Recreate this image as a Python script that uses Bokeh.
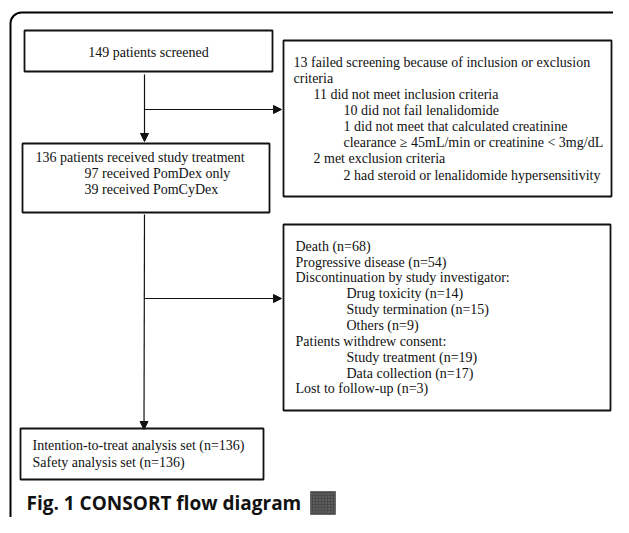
from bokeh.plotting import figure
from bokeh.models import Range1d, Arrow, NormalHead, BoxAnnotation, ColumnDataSource
from bokeh.core.properties import value
from bokeh.embed import file_html
from bokeh.resources import INLINE

# ---- data (texts of the flow diagram) ----
screened = 149
treated = 136
pomdex = 97
pomcydex = 39

box1_lines = [f"{screened} patients screened"]
box2_lines = [f"{treated} patients received study treatment",
              f"{pomdex} received PomDex only",
              f"{pomcydex} received PomCyDex"]
box2_indent = [0, 1, 1]
box3_lines = ["13 failed screening because of inclusion or exclusion",
              "criteria",
              "11 did not meet inclusion criteria",
              "10 did not fail lenalidomide",
              "1 did not meet that calculated creatinine",
              "clearance \u2265 45mL/min or creatinine < 3mg/dL",
              "2 met exclusion criteria",
              "2 had steroid or lenalidomide hypersensitivity"]
box3_indent = [0, 0, 1, 2, 2, 2, 1, 2]
box4_lines = ["Death (n=68)",
              "Progressive disease (n=54)",
              "Discontinuation by study investigator:",
              "Drug toxicity (n=14)",
              "Study termination (n=15)",
              "Others (n=9)",
              "Patients withdrew consent:",
              "Study treatment (n=19)",
              "Data collection (n=17)",
              "Lost to follow-up (n=3)"]
box4_indent = [0, 0, 0, 1, 1, 1, 0, 1, 1, 0]
box5_lines = [f"Intention-to-treat analysis set (n={treated})",
              f"Safety analysis set (n={treated})"]
caption = "Fig. 1 CONSORT flow diagram"

# ---- layout ----
W, H = 613, 517
p = figure(width=W, height=H, x_range=Range1d(0, W), y_range=Range1d(H, 0),
           output_backend="svg", toolbar_location=None, min_border=0,
           min_border_left=0, min_border_right=0, min_border_top=0, min_border_bottom=0)
p.axis.visible = False
p.grid.visible = False
p.outline_line_color = None
p.background_fill_color = "white"
p.border_fill_color = "white"

# outer rounded frame
p.add_layout(BoxAnnotation(left=10, right=627, top=12, bottom=530, fill_alpha=0,
                           line_color="black", line_alpha=1.0, line_width=2,
                           border_radius=11, level="overlay"))

# boxes
bx = dict(left=[24, 22, 283, 283, 20], right=[272, 269, 611, 610, 263],
          top=[30, 143, 40, 224, 428], bottom=[71, 212, 196, 410, 479])
p.quad(source=ColumnDataSource(bx), left="left", right="right", top="top", bottom="bottom",
       fill_color="white", line_color="#111111", line_width=1.8)

# arrows
arrow_lines = [(144, 74, 144, 141), (144, 109, 281, 109),
               (144, 214, 143.5, 429), (144, 298, 281, 298)]
for (x0, y0, x1, y1) in arrow_lines:
    p.add_layout(Arrow(x_start=x0, y_start=y0, x_end=x1, y_end=y1, line_width=1.2,
                       line_color="#111111",
                       end=NormalHead(size=8, fill_color="#111111", line_color="#111111",
                                      line_width=1)))

FONT = value("Liberation Serif")
FS = "14px"
TC = "#111111"

def add_text(xs, ys, texts, align="left"):
    p.text(x=xs, y=ys, text=texts, text_font=FONT, text_font_size=FS, text_color=TC,
           text_align=align, text_baseline="middle")

add_text([148], [52], box1_lines, align="center")
add_text([35 + 49 * i for i in box2_indent], [157, 173, 189], box2_lines)
add_text([293 + [0, 20, 50][i] for i in box3_indent],
         [62, 78, 94, 110, 126, 142, 158, 175], box3_lines)
add_text([295 + 51 * i for i in box4_indent],
         [246, 262, 277, 293, 309, 325, 341, 357, 373, 388], box4_lines)
add_text([32, 32], [445, 462], box5_lines)

p.text(x=[26], y=[502], text=[caption], text_font=value("Open Sans"), text_font_size="19px",
       text_font_style="bold", text_color="#111111", text_align="left", text_baseline="middle")
p.quad(left=[310], right=[335], top=[491], bottom=[514], fill_color="#4a4a4a",
       line_color="#333333", line_width=0.5, hatch_pattern="dot", hatch_color="#7a7a7a",
       hatch_scale=3)

open("out.html", "w").write(file_html(p, INLINE))
